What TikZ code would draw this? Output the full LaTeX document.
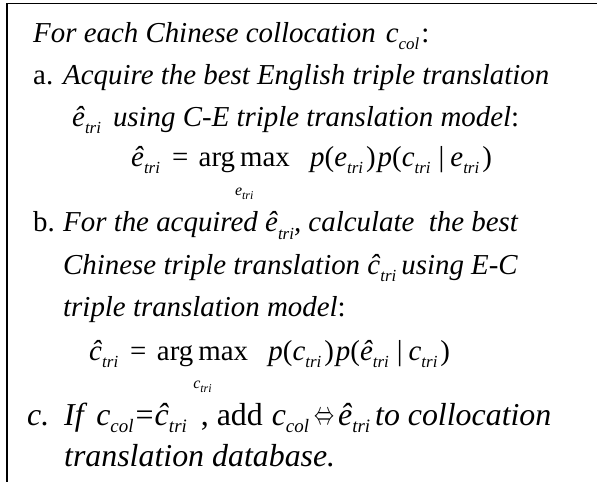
\documentclass[tikz,border=0pt]{standalone}
\usepackage{graphicx}
\usepackage{fontspec}
\setmainfont{Liberation Serif}
\usetikzlibrary{positioning}

\newcommand{\sv}[2]{\textit{#1}\raisebox{-7bp}{\fontsize{17}{17}\selectfont\textit{#2}}}
\newcommand{\svl}[2]{\textit{#1}\raisebox{-7.5bp}{\fontsize{19}{19}\selectfont\textit{#2}}}
\newcommand{\hv}[2]{\sv{\^{#1}}{#2}}
\newcommand{\hvl}[2]{\svl{\^{#1}}{#2}}
\newcommand{\usv}[2]{{\fontsize{16}{16}\selectfont\textit{#1}}\raisebox{-4bp}{\fontsize{12}{12}\selectfont\textit{#2}}}
\newcommand{\eqv}{\raisebox{1bp}{\resizebox{20bp}{12bp}{$\Leftrightarrow$}}}

\begin{document}
\begin{tikzpicture}[x=1bp,y=-1bp,
    every node/.style={inner sep=0pt,anchor=base west,font=\fontsize{29}{29}\selectfont},
    big/.style={font=\fontsize{32}{32}\selectfont},
    limit/.style={font=\fontsize{16}{16}\selectfont}]
  \useasboundingbox (0,0) rectangle (597,482);
  \draw[line width=1.6bp] (7,482) -- (7,3.5) -- (597,3.5);

  \node (head) at (33,43) {\textit{For each Chinese collocation}\kern10bp\sv{c}{col}\kern2bp:};

  \node (a) at (33,85) {a.};
  \node (a1) at (63,85) {\textit{Acquire the best English triple translation}};
  \node (a2) at (72,127) {\hv{e}{tri}\kern12bp\textit{using C-E triple translation model}:};
  \node (ea) at (131,167) {\hv{e}{tri}\kern12bp=};
  \node (ma) [base right=10bp of ea] {arg\kern5bp max};
  \node[limit] (la) [below=14bp of ma] {\usv{e}{tri}};
  \node (pa) [base right=20bp of ma] {\textit{p}(\sv{e}{tri}\kern3bp)\kern2bp\textit{p}(\sv{c}{tri}\kern8bp|\kern6bp\sv{e}{tri}\kern3bp)};

  \node (b) at (33,232) {b.};
  \node (b1) at (63,232) {\textit{For the acquired} \hv{e}{tri}\textit{, calculate\ \ the best}};
  \node (b2) at (63,274) {\textit{Chinese triple translation} \hv{c}{tri}\kern5bp\textit{using E-C}};
  \node (b3) at (63,316) {\textit{triple translation model}:};
  \node (eb) at (89,360) {\hv{c}{tri}\kern12bp=};
  \node (mb) [base right=10bp of eb] {arg\kern5bp max};
  \node[limit] (lb) [below=14bp of mb] {\usv{c}{tri}};
  \node (pb) [base right=20bp of mb] {\textit{p}(\sv{c}{tri}\kern3bp)\kern2bp\textit{p}(\hv{e}{tri}\kern8bp|\kern6bp\sv{c}{tri}\kern3bp)};

  \node[big] (c) at (27,425) {\textit{c.}};
  \node[big] (c1) at (64,425) {\textit{If}\kern9bp\svl{c}{col}\kern2bp=\kern1bp\hvl{c}{tri}\kern14bp, add\kern9bp\svl{c}{col}\kern5bp\eqv\kern4bp\hvl{e}{tri}\kern5bp\textit{to collocation}};
  \node[big] (c2) at (64,466) {\textit{translation database.}};
\end{tikzpicture}
\end{document}
